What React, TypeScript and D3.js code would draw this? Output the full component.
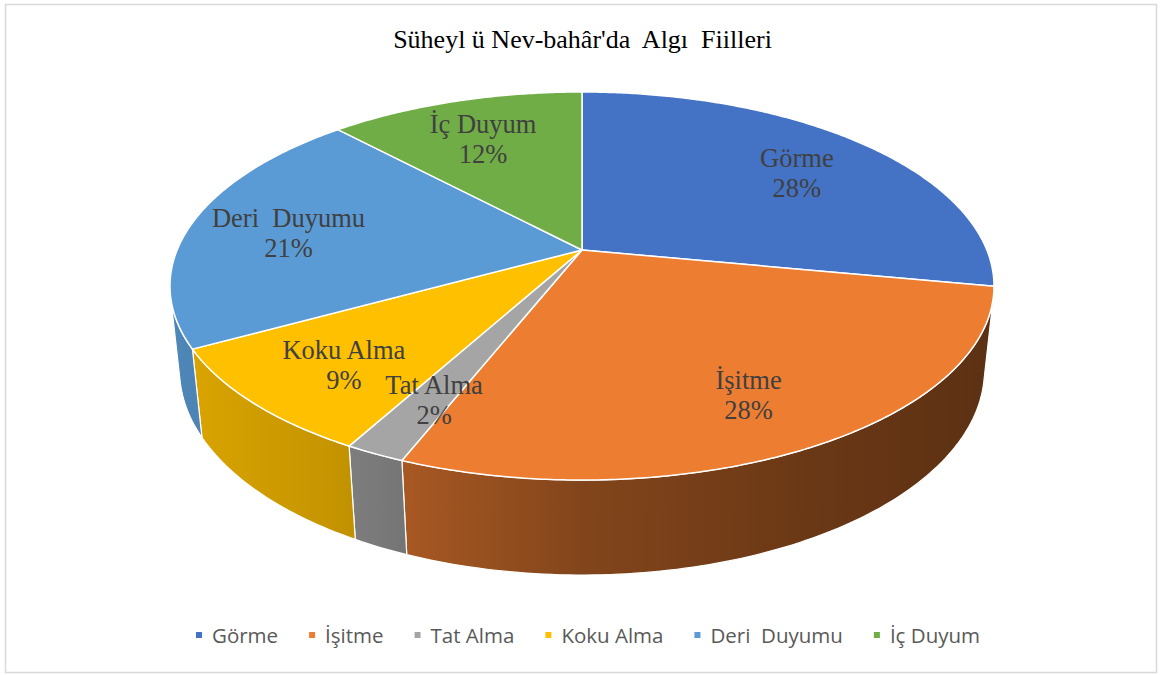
import React, { useEffect, useRef } from "react";
import * as d3 from "d3";

const categories = ["Görme", "İşitme", "Tat Alma", "Koku Alma", "Deri  Duyumu", "İç Duyum"];
const values = [28, 28, 2, 9, 21, 12];
const percentLabels = ["28%", "28%", "2%", "9%", "21%", "12%"];
const colors = ["#4472C4", "#ED7D31", "#A5A5A5", "#FFC000", "#5B9BD5", "#70AD47"];
const title = "Süheyl ü Nev-bahâr'da  Algı  Fiilleri";

const W = 1165;
const H = 675;

// perspective camera for the 3D pie
const CX = 582;
const CY = 250;
const F = 1933.9;
const DIST = 4.777;
const SIN_A = 0.4628;
const COS_A = 0.8865;
const THICK = 0.2363;
const LABEL_R = 0.75;

function project(X: number, Y: number, Z: number): [number, number] {
  const depth = DIST + Y * COS_A - Z * SIN_A;
  const up = Y * SIN_A + Z * COS_A;
  return [CX + (F * X) / depth, CY - (F * up) / depth];
}

function pt(a: number, r: number, z: number): [number, number] {
  return project(r * Math.sin(a), r * Math.cos(a), z);
}

const shadeScale = d3
  .scaleLinear()
  .domain([-1, -0.85, -0.5, -0.37, 0, 0.5, 1])
  .range([0.88, 0.85, 0.77, 0.71, 0.55, 0.44, 0.38]);

function shade(c: string, k: number): string {
  const col = d3.rgb(c);
  return d3.rgb(col.r * k, col.g * k, col.b * k).formatHex();
}

export default function App() {
  const ref = useRef<SVGSVGElement | null>(null);

  useEffect(() => {
    const svg = d3.select(ref.current);
    svg.selectAll("*").remove();

    svg
      .append("rect")
      .attr("x", 0)
      .attr("y", 0)
      .attr("width", W)
      .attr("height", H)
      .attr("fill", "#ffffff");
    svg
      .append("rect")
      .attr("x", 5.5)
      .attr("y", 4.5)
      .attr("width", 1151)
      .attr("height", 668)
      .attr("fill", "none")
      .attr("stroke", "#d9d9d9")
      .attr("stroke-width", 1.5);

    svg
      .append("text")
      .attr("x", 582.5)
      .attr("y", 48)
      .attr("text-anchor", "middle")
      .attr("font-family", "'Liberation Serif', 'Times New Roman', serif")
      .attr("font-size", 26)
      .attr("fill", "#000000")
      .style("white-space", "pre")
      .text(title);

    const pie = d3
      .pie<number>()
      .sort(null)
      .startAngle(0)
      .endAngle(2 * Math.PI)
      .value((d) => d);
    const arcs = pie(values);

    const line = d3.line<[number, number]>().x((d) => d[0]).y((d) => d[1]);
    const defs = svg.append("defs");

    // visible outer wall range (front facing)
    const k = 1 / (DIST * COS_A);
    const visLo = Math.acos(-k);
    const visHi = 2 * Math.PI - Math.acos(-k);
    const xLeft = pt(visHi, 1, 0)[0];
    const xRight = pt(visLo, 1, 0)[0];

    const sides = svg.append("g");
    arcs.forEach((a, i) => {
      const lo = Math.max(a.startAngle, visLo);
      const hi = Math.min(a.endAngle, visHi);
      if (hi <= lo) return;
      const gid = `side-grad-${i}`;
      const grad = defs
        .append("linearGradient")
        .attr("id", gid)
        .attr("gradientUnits", "userSpaceOnUse")
        .attr("x1", xLeft)
        .attr("x2", xRight)
        .attr("y1", 0)
        .attr("y2", 0);
      const nStops = 24;
      for (let s = 0; s <= nStops; s++) {
        const ang = visHi - ((visHi - visLo) * s) / nStops;
        const sx = pt(ang, 1, 0)[0];
        grad
          .append("stop")
          .attr("offset", (sx - xLeft) / (xRight - xLeft))
          .attr("stop-color", shade(colors[i], shadeScale(Math.sin(ang))));
      }
      const n = Math.max(2, Math.ceil(((hi - lo) * 180) / Math.PI));
      const top: [number, number][] = [];
      const bot: [number, number][] = [];
      for (let s = 0; s <= n; s++) {
        const ang = lo + ((hi - lo) * s) / n;
        top.push(pt(ang, 1, 0));
        bot.push(pt(ang, 1, -THICK));
      }
      const poly = top.concat(bot.reverse());
      sides
        .append("path")
        .attr("d", line(poly) + "Z")
        .attr("fill", `url(#${gid})`)
        .attr("stroke", "#ffffff")
        .attr("stroke-width", 1.2)
        .attr("stroke-linejoin", "round");
    });

    const tops = svg.append("g");
    arcs.forEach((a, i) => {
      const n = Math.max(2, Math.ceil(((a.endAngle - a.startAngle) * 180) / Math.PI) * 2);
      const poly: [number, number][] = [pt(0, 0, 0)];
      for (let s = 0; s <= n; s++) {
        const ang = a.startAngle + ((a.endAngle - a.startAngle) * s) / n;
        poly.push(pt(ang, 1, 0));
      }
      tops
        .append("path")
        .attr("d", line(poly) + "Z")
        .attr("fill", colors[i])
        .attr("stroke", "#ffffff")
        .attr("stroke-width", 1.5)
        .attr("stroke-linejoin", "round");
    });

    const labels = svg.append("g");
    arcs.forEach((a, i) => {
      const mid = (a.startAngle + a.endAngle) / 2;
      const [lx, ly] = pt(mid, LABEL_R, 0);
      const t = labels
        .append("text")
        .attr("text-anchor", "middle")
        .attr("font-family", "'Liberation Serif', 'Times New Roman', serif")
        .attr("font-size", 26.5)
        .attr("fill", "#404040")
        .style("white-space", "pre");
      t.append("tspan").attr("x", lx).attr("y", ly - 1).text(categories[i]);
      t.append("tspan").attr("x", lx).attr("y", ly + 29).text(percentLabels[i]);
    });

    // legend
    const legend = svg.append("g");
    const items = categories.map((c, i) => {
      const g = legend.append("g");
      g.append("rect")
        .attr("width", 6)
        .attr("height", 6)
        .attr("y", 632)
        .attr("fill", colors[i]);
      const tx = g
        .append("text")
        .attr("x", 16)
        .attr("y", 643)
        .attr("font-family", "'Open Sans', sans-serif")
        .attr("font-size", 20.5)
        .attr("fill", "#595959")
        .style("white-space", "pre")
        .text(c);
      const w = (tx.node() as SVGTextElement).getComputedTextLength();
      return { g, w: 16 + w };
    });
    const gap = 31;
    const total = items.reduce((s, it) => s + it.w, 0) + gap * (items.length - 1);
    let x = 588 - total / 2;
    items.forEach((it) => {
      it.g.attr("transform", `translate(${x},0)`);
      x += it.w + gap;
    });
  }, []);

  return (
    <svg
      ref={ref}
      width={W}
      height={H}
      style={{ position: "absolute", left: 0, top: 0, display: "block" }}
    />
  );
}
